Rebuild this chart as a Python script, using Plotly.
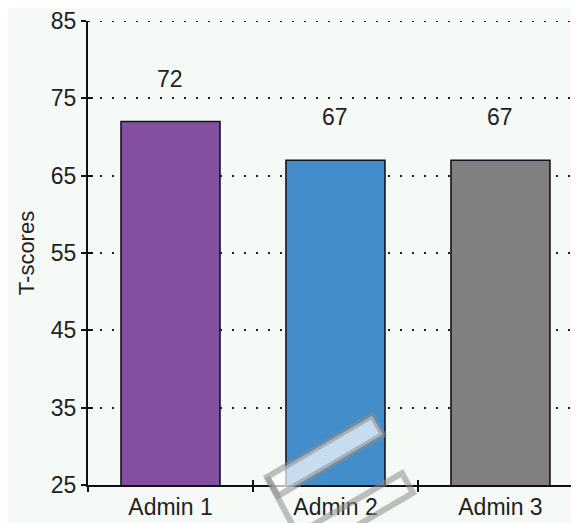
import plotly.graph_objects as go

categories = ["Admin 1", "Admin 2", "Admin 3"]
t_scores = [72, 67, 67]
bar_colors = ["#844f9e", "#438dca", "#808080"]
y_ticks = [25, 35, 45, 55, 65, 75, 85]

BG = "#f5faf7"
FONT = "Liberation Sans, Arial, sans-serif"
OFF = 8  # page body margin
W, H = 579 - OFF, 523 - OFF
ML, MR, MT, MB = 88 - OFF, 0, 16 - OFF, 38
X_RANGE = [-0.5, 2.476]
Y_RANGE = [25, 85]
GRID_DASH = "2px,10px"


def to_paper(px, py):
    """screen pixel -> paper coordinates"""
    px, py = px - OFF, py - OFF
    return (px - ML) / (W - ML - MR), (H - MB - py) / (H - MT - MB)


def path_from(segments):
    parts = []
    for seg in segments:
        pts = [to_paper(*p) for p in seg["pts"]]
        d = "M " + " L ".join(f"{x:.4f},{y:.4f}" for x, y in pts)
        if seg.get("close"):
            d += " Z"
        parts.append(d)
    return " ".join(parts)


fig = go.Figure()

fig.add_trace(go.Bar(
    x=categories,
    y=t_scores,
    width=0.6,
    marker=dict(color=bar_colors, line=dict(color="#141420", width=1.6)),
    showlegend=False,
))

# invisible trace so the overlay axes (inner tick halves) are drawn
fig.add_trace(go.Scatter(x=[None], y=[None], xaxis="x2", yaxis="y2",
                         showlegend=False, hoverinfo="skip"))

for cat, val in zip(categories, t_scores):
    fig.add_annotation(x=cat, y=val, text=str(val), showarrow=False,
                       yanchor="bottom", yshift=28,
                       font=dict(size=23, color="#222222", family=FONT))

# top gridline (plotly skips the one sitting on the range edge)
fig.add_shape(type="line", xref="paper", yref="y", x0=0, x1=1, y0=Y_RANGE[1], y1=Y_RANGE[1],
              layer="below", line=dict(color="#222222", width=2, dash=GRID_DASH))

# watermark
fig.add_shape(type="path", xref="paper", yref="paper", layer="above",
              path=path_from([{"pts": [(267, 477), (372, 415), (383, 434), (278, 496)], "close": True}]),
              fillcolor="rgba(255,255,255,0.7)",
              line=dict(color="rgba(140,140,140,0.55)", width=6))
fig.add_shape(type="path", xref="paper", yref="paper", layer="above",
              path=path_from([
                  {"pts": [(278, 496), (267, 477), (308, 555)]},
                  {"pts": [(300, 533), (402, 473), (413, 493), (308, 555)]},
              ]),
              line=dict(color="rgba(140,140,140,0.55)", width=6))

fig.update_layout(
    width=W, height=H,
    margin=dict(l=ML, r=MR, t=MT, b=MB),
    paper_bgcolor=BG, plot_bgcolor=BG,
    font=dict(family=FONT, size=23, color="#222222"),
    xaxis=dict(
        type="category", range=X_RANGE,
        tickson="boundaries", ticks="outside", ticklen=5, tickwidth=2, tickcolor="#111",
        showline=True, linecolor="#111", linewidth=2,
        showgrid=False, zeroline=False, ticklabeloverflow="allow",
    ),
    yaxis=dict(
        range=Y_RANGE, tickvals=y_ticks,
        ticks="outside", ticklen=5, tickwidth=2, tickcolor="#111",
        showline=True, linecolor="#111", linewidth=2,
        showgrid=True, gridcolor="#222222", gridwidth=2, griddash=GRID_DASH,
        zeroline=False, ticklabeloverflow="allow",
        title=dict(text="T-scores", standoff=10, font=dict(size=22)),
    ),
    xaxis2=dict(
        overlaying="x", anchor="y2", range=X_RANGE, tickvals=[0.5, 1.5],
        ticks="inside", ticklen=5, tickwidth=2, tickcolor="#111",
        showticklabels=False, showgrid=False, showline=False, zeroline=False,
    ),
    yaxis2=dict(
        overlaying="y", anchor="x2", range=Y_RANGE, tickvals=y_ticks,
        ticks="inside", ticklen=5, tickwidth=2, tickcolor="#111",
        showticklabels=False, showgrid=False, showline=False, zeroline=False,
    ),
)

fig.write_html("out.html")
